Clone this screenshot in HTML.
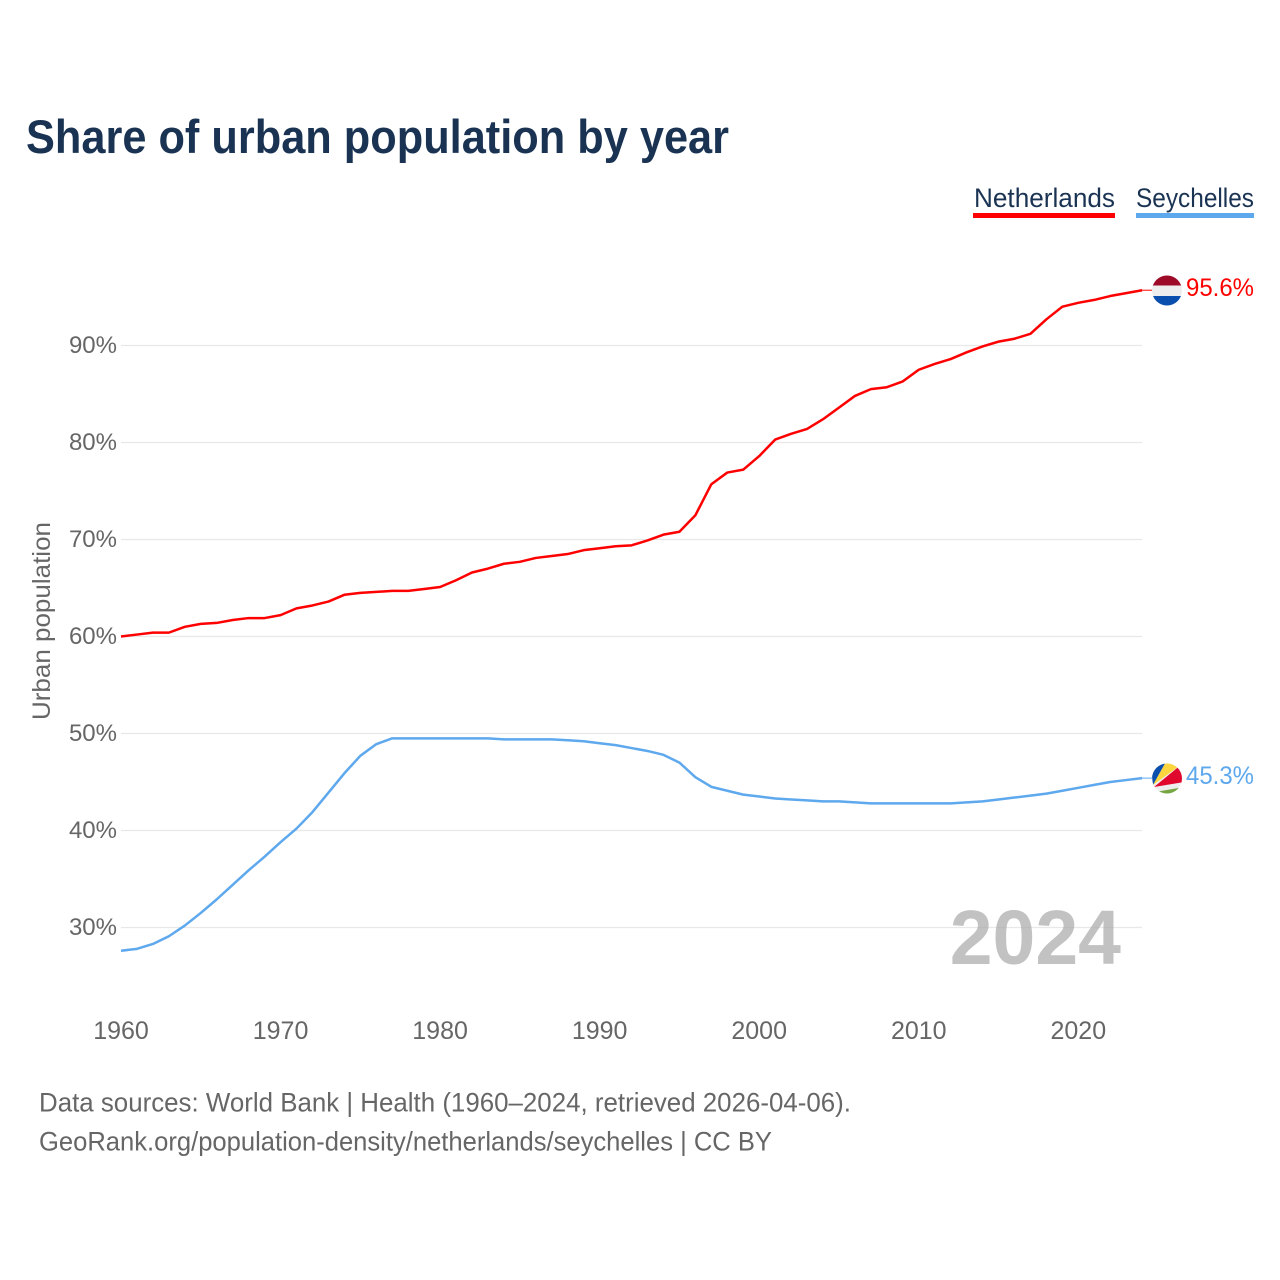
<!DOCTYPE html>
<html lang="en">
<head>
<meta charset="utf-8">
<title>Share of urban population by year</title>
<style>
html,body{margin:0;padding:0;background:#fff;width:1280px;height:1280px;overflow:hidden}
svg{display:block}
text{font-family:"Liberation Sans",sans-serif}
</style>
</head>
<body>
<svg id="chart" width="1280" height="1280" viewBox="0 0 1280 1280" xmlns="http://www.w3.org/2000/svg">
  <defs>
    <clipPath id="flag-nl-clip"><circle id="flag-nl-circle" cx="1167" cy="290.5" r="15"/></clipPath>
    <clipPath id="flag-sc-clip"><circle id="flag-sc-circle" cx="1167" cy="778.5" r="15"/></clipPath>
  </defs>
  <rect width="1280" height="1280" fill="#fff"/>
  <text x="26" y="153" font-size="47" font-weight="700" fill="#1a3353" textLength="703" lengthAdjust="spacingAndGlyphs">Share of urban population by year</text>

  <g>
    <g>
      <text x="974" y="207" font-size="27" fill="#1a3353" textLength="141" lengthAdjust="spacingAndGlyphs">Netherlands</text>
      <rect x="973" y="213" width="142" height="5" fill="#ff0000"/>
    </g>
    <g>
      <text x="1136" y="207" font-size="27" fill="#1a3353" textLength="118" lengthAdjust="spacingAndGlyphs">Seychelles</text>
      <rect x="1136" y="213" width="118" height="5" fill="#5ea8ee"/>
    </g>
  </g>

  <g id="grid"></g>
  <g id="y-ticks"></g>
  <g id="x-ticks"></g>
  <text transform="translate(50,621) rotate(-90)" text-anchor="middle" font-size="25" fill="#666" textLength="198" lengthAdjust="spacingAndGlyphs">Urban population</text>

  <text x="1121" y="964" text-anchor="end" font-size="77" font-weight="700" fill="#a8a8a8" fill-opacity="0.7">2024</text>

  <g id="series"></g>

  <g clip-path="url(#flag-nl-clip)">
    <rect x="1150" y="275" width="34" height="11" fill="#9e0b28"/>
    <rect x="1150" y="285.5" width="34" height="10.5" fill="#eeeeee"/>
    <rect x="1150" y="296" width="34" height="11" fill="#0a4fae"/>
  </g>
  <g clip-path="url(#flag-sc-clip)">
    <rect x="1150" y="761" width="34" height="36" fill="#eeeeee"/>
    <polygon points="1153,785 1150,760 1167,760" fill="#0a4fae"/>
    <polygon points="1153,785 1167,760 1182,760 1182,764" fill="#fcd53f"/>
    <polygon points="1154,787 1182,764 1184,764 1184,782" fill="#e0082d"/>
    <polygon points="1155,792 1184,787 1184,797 1150,797" fill="#76a543"/>
  </g>

  <text id="end-label-netherlands" x="1254" y="296" text-anchor="end" font-size="25" fill="#ff0000" textLength="68" lengthAdjust="spacingAndGlyphs">95.6%</text>
  <text id="end-label-seychelles" x="1254" y="784" text-anchor="end" font-size="25" fill="#5ea8ee" textLength="68" lengthAdjust="spacingAndGlyphs">45.3%</text>

  <text x="39" y="1111.5" font-size="27" fill="#666" textLength="812" lengthAdjust="spacingAndGlyphs">Data sources: World Bank | Health (1960–2024, retrieved 2026-04-06).</text>
  <text x="39" y="1150.5" font-size="27" fill="#666" textLength="733" lengthAdjust="spacingAndGlyphs">GeoRank.org/population-density/netherlands/seychelles | CC BY</text>
</svg>
<script>
const startYear = 1960;
const xTickYears = [1960, 1970, 1980, 1990, 2000, 2010, 2020];
const yTickValues = [30, 40, 50, 60, 70, 80, 90];
const netherlandsValues = [60.0,60.2,60.4,60.4,61.0,61.3,61.4,61.7,61.9,61.9,62.2,62.9,63.2,63.6,64.3,64.5,64.6,64.7,64.7,64.9,65.1,65.8,66.6,67.0,67.5,67.7,68.1,68.3,68.5,68.9,69.1,69.3,69.4,69.9,70.5,70.8,72.5,75.7,76.9,77.2,78.6,80.3,80.9,81.4,82.4,83.6,84.8,85.5,85.7,86.3,87.5,88.1,88.6,89.3,89.9,90.4,90.7,91.2,92.7,94.0,94.4,94.7,95.1,95.4,95.7];
const seychellesValues = [27.6,27.8,28.3,29.1,30.2,31.5,32.9,34.4,35.9,37.3,38.8,40.2,41.9,43.9,45.9,47.7,48.9,49.5,49.5,49.5,49.5,49.5,49.5,49.5,49.4,49.4,49.4,49.4,49.3,49.2,49.0,48.8,48.5,48.2,47.8,47.0,45.5,44.5,44.1,43.7,43.5,43.3,43.2,43.1,43.0,43.0,42.9,42.8,42.8,42.8,42.8,42.8,42.8,42.9,43.0,43.2,43.4,43.6,43.8,44.1,44.4,44.7,45.0,45.2,45.4];

const NS = 'http://www.w3.org/2000/svg';
function xScale(year) { return 121 + (year - 1960) * 15.955; }
function yScale(value) { return 345.5 + (90 - value) * 9.7; }

const grid = document.getElementById('grid');
const yTicks = document.getElementById('y-ticks');
yTickValues.forEach(function (v) {
  const line = document.createElementNS(NS, 'line');
  
  
  line.setAttribute('x1', 121);
  line.setAttribute('x2', 1142);
  line.setAttribute('y1', yScale(v));
  line.setAttribute('y2', yScale(v));
  line.setAttribute('stroke', '#e8e8e8');
  line.setAttribute('stroke-width', 1.2);
  grid.appendChild(line);

  const t = document.createElementNS(NS, 'text');
  
  
  t.setAttribute('x', 117);
  t.setAttribute('y', yScale(v) + 7.5);
  t.setAttribute('text-anchor', 'end');
  t.setAttribute('font-size', 24);
  t.setAttribute('fill', '#666');
  t.textContent = v + '%';
  yTicks.appendChild(t);
});

const xTicks = document.getElementById('x-ticks');
xTickYears.forEach(function (y) {
  const t = document.createElementNS(NS, 'text');
  
  
  t.setAttribute('x', xScale(y));
  t.setAttribute('y', 1039);
  t.setAttribute('text-anchor', 'middle');
  t.setAttribute('font-size', 25);
  t.setAttribute('fill', '#666');
  t.textContent = String(y);
  xTicks.appendChild(t);
});

function drawSeries(values, color, name) {
  const group = document.getElementById('series');
  const pts = values.map(function (v, i) {
    return xScale(startYear + i).toFixed(2) + ',' + yScale(v).toFixed(2);
  });
  const line = document.createElementNS(NS, 'polyline');
  
  
  line.setAttribute('points', pts.join(' '));
  line.setAttribute('fill', 'none');
  line.setAttribute('stroke', color);
  line.setAttribute('stroke-width', 2.5);
  line.setAttribute('stroke-linejoin', 'round');
  group.appendChild(line);

  const lastY = yScale(values[values.length - 1]);
  const conn = document.createElementNS(NS, 'line');
  
  
  conn.setAttribute('x1', xScale(startYear + values.length - 1));
  conn.setAttribute('x2', 1153);
  conn.setAttribute('y1', lastY);
  conn.setAttribute('y2', lastY);
  conn.setAttribute('stroke', color);
  conn.setAttribute('stroke-width', 1);
  group.appendChild(conn);
}
drawSeries(netherlandsValues, '#ff0000', 'netherlands');
drawSeries(seychellesValues, '#5ea8ee', 'seychelles');
</script>
</body>
</html>
